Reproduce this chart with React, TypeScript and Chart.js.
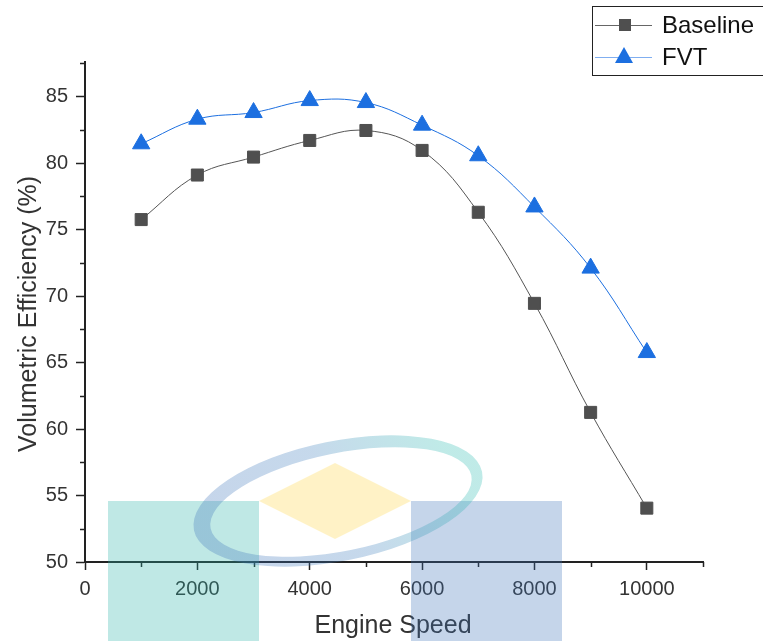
import React, { useEffect, useRef } from "react";
import { Chart, registerables } from "chart.js";

Chart.register(...registerables);

// Engine speed (rpm) and volumetric efficiency (%)
const speeds = [1000, 2000, 3000, 4000, 5000, 6000, 7000, 8000, 9000, 10000];
const baselineVE = [75.75, 79.1, 80.45, 81.7, 82.45, 80.95, 76.3, 69.45, 61.25, 54.05];
const fvtVE = [81.45, 83.3, 83.8, 84.7, 84.55, 82.85, 80.55, 76.7, 72.1, 65.75];

const xMajorTicks = [0, 2000, 4000, 6000, 8000, 10000];
const xMinorTicks = [1000, 3000, 5000, 7000, 9000, 11000];
const yMinorTicks = [52.5, 57.5, 62.5, 67.5, 72.5, 77.5, 82.5, 87.5];

const FONT = "'Liberation Sans', Arial, sans-serif";
const BASE_COLOR = "#4f4f4f";
const FVT_COLOR = "#1c6fe0";
const TEXT_COLOR = "#333";

const decorPlugin = {
  id: "decor",
  afterDraw(chart: any) {
    const { ctx, chartArea, scales } = chart;
    const xs = scales.x;
    const ys = scales.y;
    ctx.save();

    // minor ticks
    ctx.strokeStyle = "#222";
    ctx.lineWidth = 1.5;
    xMinorTicks.forEach((v) => {
      const px = Math.round(xs.getPixelForValue(v)) + 0.5;
      ctx.beginPath();
      ctx.moveTo(px, chartArea.bottom);
      ctx.lineTo(px, chartArea.bottom + 5);
      ctx.stroke();
    });
    yMinorTicks.forEach((v) => {
      const py = Math.round(ys.getPixelForValue(v)) + 0.5;
      ctx.beginPath();
      ctx.moveTo(chartArea.left, py);
      ctx.lineTo(chartArea.left - 5, py);
      ctx.stroke();
    });

    // axis titles
    ctx.fillStyle = TEXT_COLOR;
    ctx.font = `25px ${FONT}`;
    ctx.textAlign = "center";
    ctx.textBaseline = "middle";
    ctx.fillText("Engine Speed", 393, 626);
    ctx.save();
    ctx.translate(29, 314);
    ctx.rotate(-Math.PI / 2);
    ctx.fillText("Volumetric Efficiency (%)", 0, 0);
    ctx.restore();

    // legend
    ctx.fillStyle = "#fff";
    ctx.fillRect(592, 6, 180, 70);
    ctx.strokeStyle = "#222";
    ctx.lineWidth = 1;
    ctx.strokeRect(592.5, 6.5, 180, 69);
    ctx.strokeStyle = "#666";
    ctx.beginPath();
    ctx.moveTo(595, 25.5);
    ctx.lineTo(652, 25.5);
    ctx.stroke();
    ctx.fillStyle = BASE_COLOR;
    ctx.fillRect(619, 19, 12, 12);
    ctx.strokeStyle = "#80aef0";
    ctx.beginPath();
    ctx.moveTo(595, 57.5);
    ctx.lineTo(652, 57.5);
    ctx.stroke();
    ctx.fillStyle = FVT_COLOR;
    ctx.beginPath();
    ctx.moveTo(624, 47);
    ctx.lineTo(633, 63);
    ctx.lineTo(615, 63);
    ctx.closePath();
    ctx.fill();
    ctx.fillStyle = "#111";
    ctx.font = `24px ${FONT}`;
    ctx.textAlign = "left";
    ctx.fillText("Baseline", 662, 26);
    ctx.fillText("FVT", 662, 58);

    // translucent emblem over the lower part of the plot
    ctx.globalAlpha = 0.3;
    ctx.fillStyle = "rgb(42,178,168)";
    ctx.fillRect(108, 501, 151, 140);
    ctx.fillStyle = "rgb(62,115,185)";
    ctx.fillRect(411, 501, 151, 140);
    ctx.fillStyle = "rgb(255,212,65)";
    ctx.beginPath();
    ctx.moveTo(259, 501);
    ctx.lineTo(335, 463);
    ctx.lineTo(411, 501);
    ctx.lineTo(335, 539);
    ctx.closePath();
    ctx.fill();

    const grad = ctx.createLinearGradient(240, 560, 440, 440);
    grad.addColorStop(0, "rgb(62,115,185)");
    grad.addColorStop(0.5, "rgb(62,125,188)");
    grad.addColorStop(1, "rgb(42,185,175)");
    ctx.fillStyle = grad;
    ctx.beginPath();
    ctx.ellipse(338, 501, 147, 60, -0.2, 0, Math.PI * 2);
    ctx.ellipse(341, 502, 133, 49, -0.2, 0, Math.PI * 2);
    ctx.fill("evenodd");

    ctx.restore();
  },
};

export default function App() {
  const canvasRef = useRef<HTMLCanvasElement | null>(null);

  useEffect(() => {
    if (!canvasRef.current) return;
    const chart = new Chart(canvasRef.current, {
      type: "line",
      data: {
        datasets: [
          {
            label: "Baseline",
            data: speeds.map((s, i) => ({ x: s, y: baselineVE[i] })),
            borderColor: "#555",
            borderWidth: 1,
            backgroundColor: BASE_COLOR,
            pointBackgroundColor: BASE_COLOR,
            pointBorderColor: BASE_COLOR,
            pointBorderWidth: 1,
            pointStyle: "rect",
            pointRadius: 8.5,
            tension: 0.4,
          },
          {
            label: "FVT",
            data: speeds.map((s, i) => ({ x: s, y: fvtVE[i] })),
            borderColor: FVT_COLOR,
            borderWidth: 1,
            backgroundColor: FVT_COLOR,
            pointBackgroundColor: FVT_COLOR,
            pointBorderColor: FVT_COLOR,
            pointBorderWidth: 1,
            pointStyle: "triangle",
            pointRadius: 10,
            tension: 0.4,
          },
        ],
      },
      options: {
        responsive: false,
        animation: false,
        devicePixelRatio: 1,
        layout: { padding: { top: 62, right: 60, left: 0, bottom: 0 } },
        plugins: {
          legend: { display: false },
          tooltip: { enabled: false },
        },
        scales: {
          x: {
            type: "linear",
            min: 0,
            max: 11000,
            afterFit: (s: any) => {
              s.height = 79;
            },
            afterBuildTicks: (s: any) => {
              s.ticks = xMajorTicks.map((v) => ({ value: v }));
            },
            ticks: {
              stepSize: 2000,
              includeBounds: false,
              autoSkip: false,
              maxRotation: 0,
              padding: 7,
              color: TEXT_COLOR,
              font: { family: FONT, size: 20 },
              callback: (v: any) => String(v),
            },
            grid: {
              drawOnChartArea: false,
              drawTicks: true,
              tickLength: 8,
              tickColor: "#222",
              tickWidth: 1.5,
            },
            border: { color: "#222", width: 2 },
          },
          y: {
            type: "linear",
            min: 50,
            max: 87.6,
            afterFit: (s: any) => {
              s.width = 85;
            },
            ticks: {
              stepSize: 5,
              includeBounds: false,
              padding: 8,
              color: TEXT_COLOR,
              font: { family: FONT, size: 20 },
            },
            grid: {
              drawOnChartArea: false,
              drawTicks: true,
              tickLength: 9,
              tickColor: "#222",
              tickWidth: 1.5,
            },
            border: { color: "#222", width: 2 },
          },
        },
      },
      plugins: [decorPlugin],
    });
    return () => chart.destroy();
  }, []);

  return (
    <div style={{ position: "absolute", left: 0, top: 0, width: 763, height: 641, background: "#fff" }}>
      <canvas ref={canvasRef} width={763} height={641} />
    </div>
  );
}
